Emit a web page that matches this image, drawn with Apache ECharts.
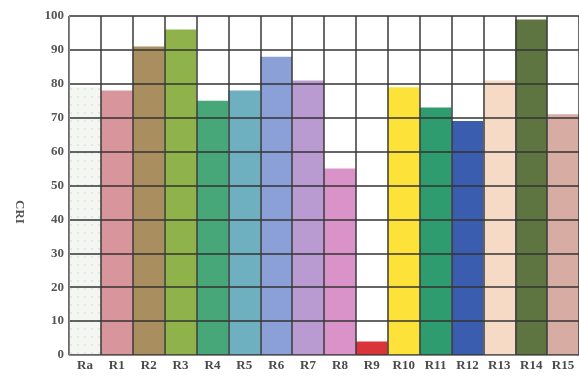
<!DOCTYPE html>
<html>
<head>
<meta charset="utf-8">
<script src="https://cdn.jsdelivr.net/npm/echarts@6/dist/echarts.min.js"></script>
<style>html,body{margin:0;padding:0;background:#fff;}#c{width:579px;height:376px;}</style>
</head>
<body>
<div id="c"></div>
<script>
const categories = ['Ra','R1','R2','R3','R4','R5','R6','R7','R8','R9','R10','R11','R12','R13','R14','R15'];
const values = [79, 78, 91, 96, 75, 78, 88, 81, 55, 4, 79, 73, 69, 81, 99, 71];
const colors = ['#f3f6f1','#d9959c','#a98f5f','#8fb24a','#48a779','#6eb0c0','#8ba0d6','#b99bd2','#d993c9','#d8343a','#fde23a','#2f9c6f','#3b5db0','#f7dac6','#5e7541','#d7aca2'];
const yTicks = [0,10,20,30,40,50,60,70,80,90,100];
const yName = 'CRI';

const chart = echarts.init(document.getElementById('c'), null, {renderer:'canvas'});
const data = values.map((v, i) => {
  const item = {value: v, itemStyle: {color: colors[i]}};
  if (i === 0) {
    item.itemStyle.decal = {symbol:'rect', symbolSize:0.6, color:'rgba(140,180,175,0.6)', dashArrayX:[2,5], dashArrayY:[2,6], rotation:0};
  }
  return item;
});
chart.setOption({
  animation: false,
  backgroundColor: '#fff',
  grid: {left: 69, top: 16, width: 517, height: 339, show: false},
  graphic: [{
    type: 'text', x: 19, y: 212, rotation: -Math.PI / 2,
    style: {text: yName, fill: '#555', font: 'bold 13px "Liberation Serif"', align: 'center', verticalAlign: 'middle'}
  }],
  xAxis: {
    type: 'category',
    data: categories,
    z: 5,
    axisLine: {show: true, lineStyle: {color: '#888', width: 1}},
    axisTick: {show: false},
    splitLine: {show: true, interval: 0, lineStyle: {color: '#3a3a3a', width: 1.5}},
    axisLabel: {interval: 0, color: '#4a4a4a', fontFamily: 'Liberation Serif', fontSize: 13, fontWeight: 'bold', margin: 4}
  },
  yAxis: {
    type: 'value',
    min: yTicks[0], max: yTicks[yTicks.length-1], interval: 10,
    z: 5,
    axisLine: {show: true, lineStyle: {color: '#888', width: 1}},
    axisTick: {show: false},
    splitLine: {show: true, lineStyle: {color: '#333', width: 1.5}},
    axisLabel: {color: '#555', fontFamily: 'Liberation Serif', fontSize: 13, fontWeight: 'bold', margin: 5}
  },
  series: [{
    type: 'bar',
    data: data,
    barCategoryGap: '0%',
    barGap: '0%',
    z: 2
  }]
});
</script>
</body>
</html>
